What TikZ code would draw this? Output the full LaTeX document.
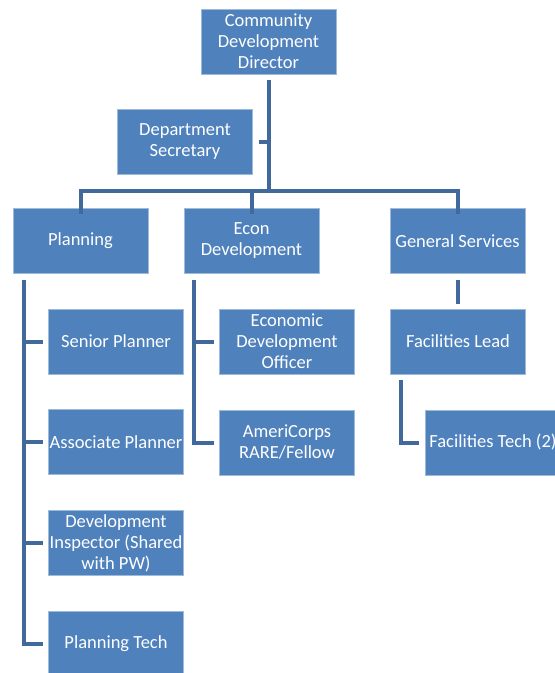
\documentclass[tikz,border=0pt]{standalone}
\usepackage{fontspec}
\setmainfont{Carlito}
\definecolor{boxblue}{HTML}{4F81BD}
\definecolor{lineblue}{HTML}{41699B}
\tikzset{%
				every unit/.style={
					rectangle,
					fill=boxblue,
					draw=boxblue!55!white,
					line width=0.6pt,
					minimum width=135pt,
					minimum height=65pt,
					inner xsep=0pt,
					inner ysep=1pt,
					align=center,
					text=white,
					font=\fontsize{18.5}{21}\selectfont
				},
				link/.style={
					draw=lineblue,
					line width=4pt
				},
			}
\begin{document}
\begin{tikzpicture}[x=1pt, y=-1pt]
			\useasboundingbox (0,0) rectangle (555,673);
			
			\node [every unit] (director) at (268.5,41.5) {Community\\Development\\Director};
			\node [every unit] (secretary) at (185,141.5) {Department\\Secretary};
			
			\foreach \n/\x/\t in {planning/80.5/Planning, econ/251.5/Econ\\Development, services/457.5/General Services}
			\node [every unit] (\n) at (\x,241) {\t};
			
			\foreach \n/\t [count=\y from 0] in {senior/Senior Planner, associate/Associate Planner, inspector/Development\\Inspector (Shared\\with PW), ptech/Planning Tech}
			\node [every unit] (\n) at (116,341.5+\y*100.7) {\t};
			
			\node [every unit] (officer) at (287,341.5) {Economic\\Development\\Officer};
			\node [every unit] (americorps) at (287,442.5) {AmeriCorps\\RARE/Fellow};
			
			\node [every unit] (lead) at (458,341.5) {Facilities Lead};
			\node [every unit] (ftech) at (493,442.5) {Facilities Tech (2)};
			
			% director and secretary
			\coordinate (bus) at (director.south |- 0,191);
			\draw [link] ([yshift=-6pt]director.south) -- (bus);
			\draw [link] ([xshift=6pt]secretary.east) -- (secretary.east -| bus);
			
			% departments
			\draw [link] ([yshift=-6pt]planning.north) -- (planning.north |- bus) -- (services.north |- bus) -- ([yshift=-6pt]services.north);
			\draw [link] (econ.north |- bus) -- ([yshift=-6pt]econ.north);
			
			% planning staff
			\draw [link] ([xshift=11pt,yshift=-6pt]planning.south west) |- ([xshift=-5pt]ptech.west);
			\foreach \n in {senior, associate, inspector}
			\draw [link] ([xshift=11pt]planning.west |- \n.west) -- ([xshift=-5pt]\n.west);
			
			% econ staff
			\draw [link] ([xshift=10pt,yshift=-6pt]econ.south west) |- ([xshift=-5pt]americorps.west);
			\draw [link] ([xshift=10pt]econ.west |- officer.west) -- ([xshift=-5pt]officer.west);
			
			% general services staff
			\draw [link] ([yshift=-6pt]services.south) -- ([yshift=5pt]services.south |- lead.north);
			\draw [link] ([xshift=11pt,yshift=-6pt]lead.south west) |- ([xshift=-6pt]ftech.west);
			
			\end{tikzpicture}
\end{document}
